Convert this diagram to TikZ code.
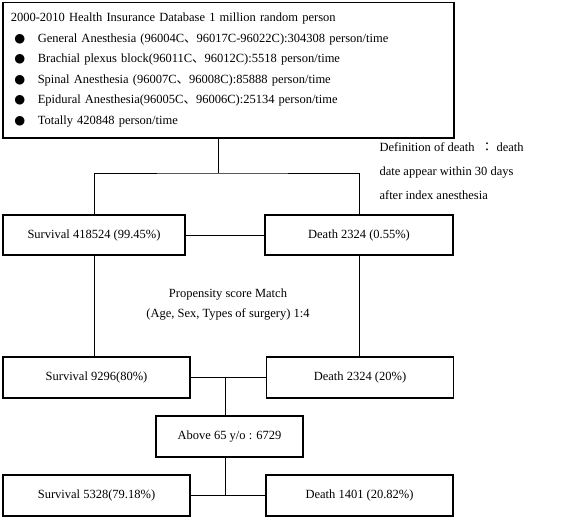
\documentclass[tikz,border=0pt]{standalone}
\usepackage{fontspec}
\setmainfont{Liberation Serif}
\newfontfamily\cjkfont{Noto Sans CJK SC}
\newfontfamily\cjktcfont{Noto Sans CJK TC}
\newfontfamily\symfont{DejaVu Sans}
\usetikzlibrary{positioning,calc}
\newcommand{\dun}{{\cjkfont 、}}
\newcommand{\bul}{\hspace*{3.5pt}\makebox[23.5pt][l]{\symfont ●}}
\tikzset{
  box/.style={draw, line width=1.5pt, minimum height=41pt, inner sep=0pt},
  link/.style={line width=0.9pt},
}

\begin{document}
\begin{tikzpicture}[x=1pt, y=-1pt, font=\fontsize{12.5}{15}\selectfont]
  \useasboundingbox (0,0) rectangle (567,519);

  % Database
  \node[box, anchor=north west, text width=435pt, inner xsep=8pt, minimum height=135pt,
        align=left, font=\fontsize{12.5}{20.5}\selectfont] (db) at (2,2) {%
    2000-2010 Health Insurance Database 1 million random person\\
    \bul General Anesthesia (96004C\dun 96017C-96022C):304308 person/time\\
    \bul Brachial plexus block(96011C\dun 96012C):5518 person/time\\
    \bul Spinal Anesthesia (96007C\dun 96008C):85888 person/time\\
    \bul Epidural Anesthesia(96005C\dun 96006C):25134 person/time\\
    \bul Totally 420848 person/time};

  \node[anchor=west, align=left, font=\fontsize{12.5}{24}\selectfont] (defn) at (376,171)
    {Definition of death \ {\cjktcfont ：}\ death\\date appear within 30 days\\after index anesthesia};

  % All anesthesia
  \node[box, minimum width=182pt, minimum height=40pt] (surv1) at (94,235) {Survival 418524 (99.45\%)};
  \node[box, minimum width=188pt, minimum height=40pt] (death1) at (359,235) {Death 2324 (0.55\%)};

  % Propensity score matched
  \node[align=center, font=\fontsize{12.5}{20}\selectfont] (psm) at (228,305)
    {Propensity score Match\\(Age, Sex, Types of surgery) 1:4};
  \node[box, minimum width=187pt] (surv2) at (96.5,377.5) {Survival 9296(80\%)};
  \node[box, minimum width=187pt] (death2) at (360,377.5) {Death 2324 (20\%)};

  % Elderly
  \node[box, minimum width=147pt] (above) at (229.5,436.5) {Above 65 y/o : 6729};
  \node[box, minimum width=187pt] (surv3) at (96.5,495.5) {Survival 5328(79.18\%)};
  \node[box, minimum width=187pt] (death3) at (359.5,495.5) {Death 1401 (20.82\%)};

  % Lines
  \coordinate (split) at (218,173);
  \coordinate (mid2) at (225,377.5);
  \coordinate (mid3) at (225,495.5);
  \draw[link] (db.south -| split) -- (split);
  \draw[link] (surv1.north) |- (split) -| (death1.north);
  \draw[link] (surv1.east) -- (death1.west);
  \draw[link] (surv1.south) -- (surv1.south |- surv2.north);
  \draw[link] (death1.south) -- (death1.south |- death2.north);
  \draw[link] (surv2.east) -- (death2.west);
  \draw[link] (mid2) -- (mid2 |- above.north);
  \draw[link] (mid3 |- above.south) -- (mid3);
  \draw[link] (surv3.east) -- (death3.west);
\end{tikzpicture}
\end{document}
